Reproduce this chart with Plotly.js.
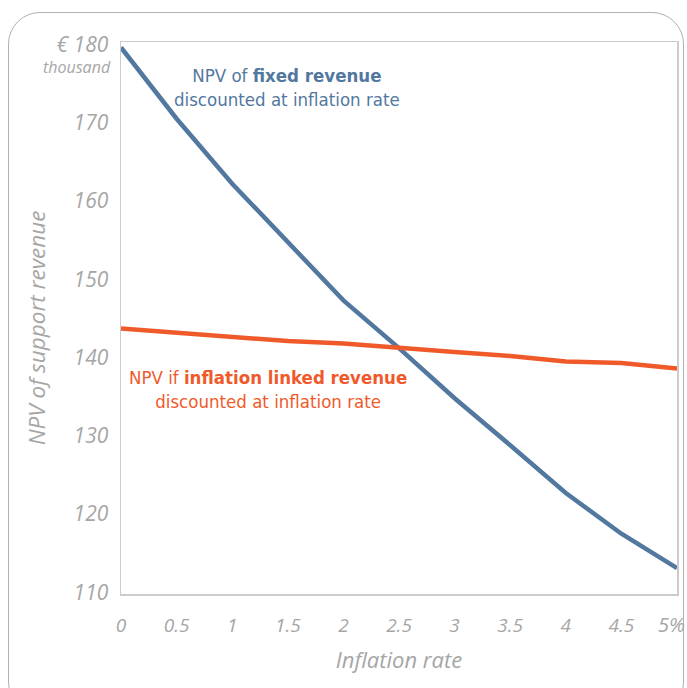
<!DOCTYPE html>
<html><head><meta charset="utf-8">
<script src="https://cdn.plot.ly/plotly-3.0.1.min.js"></script>
<style>
html,body{margin:0;padding:0;background:#fff;}
#wrap{position:relative;width:687px;height:688px;}
#chart{position:absolute;left:0;top:0;width:687px;height:688px;}
#frame{position:absolute;left:8px;top:12px;width:674px;height:700px;border:1.5px solid #b0b0b0;border-radius:32px;pointer-events:none;}
</style></head>
<body><div id="wrap"><div id="frame"></div><div id="chart"></div></div>
<script>
const inflation = [0, 0.5, 1, 1.5, 2, 2.5, 3, 3.5, 4, 4.5, 5];
const fixedNPV = [179.6, 170.5, 162.2, 154.8, 147.3, 141.2, 134.8, 128.8, 122.7, 117.5, 113.1];
const linkedNPV = [143.7, 143.2, 142.7, 142.1, 141.8, 141.2, 140.7, 140.2, 139.5, 139.3, 138.6];
const xTickVals = [0, 0.5, 1, 1.5, 2, 2.5, 3, 3.5, 4, 4.5, 5];
const xTickText = ['0', '0.5', '1', '1.5', '2', '2.5', '3', '3.5', '4', '4.5', ''];
const lastXTick = '5%';
const yTickVals = [110, 120, 130, 140, 150, 160, 170, 180];
const yTickText = ['110', '120', '130', '140', '150', '160', '170', '€ 180'];

const blue = '#52789f';
const red = '#f05a2b';
const grey = '#a6a6a6';
const fnt = '"DejaVu Sans Condensed", "Open Sans", sans-serif';
const tfnt = '"Open Sans", sans-serif';

const data = [
  {x: inflation, y: fixedNPV, type: 'scatter', mode: 'lines', line: {color: blue, width: 4.5}, hoverinfo: 'skip'},
  {x: inflation, y: linkedNPV, type: 'scatter', mode: 'lines', line: {color: red, width: 4.5}, hoverinfo: 'skip'}
];

const layout = {
  width: 687, height: 688,
  margin: {l: 121, r: 10, t: 42, b: 94},
  showlegend: false,
  paper_bgcolor: 'rgba(0,0,0,0)',
  plot_bgcolor: '#fff',
  font: {family: tfnt, color: grey},
  xaxis: {
    range: [0, 5], tickvals: xTickVals, ticktext: xTickText,
    showgrid: false, zeroline: false, showline: true, mirror: true, linecolor: '#cccccc', linewidth: 1.5,
    ticks: '', ticklabelstandoff: 14,
    tickfont: {family: tfnt, size: 19, color: grey, style: 'italic'},
    title: {text: 'Inflation rate', font: {family: tfnt, size: 22, color: grey, style: 'italic'}, standoff: 15}
  },
  yaxis: {
    range: [109.8, 180.3], tickvals: yTickVals, ticktext: yTickText,
    showgrid: false, zeroline: false, showline: true, mirror: true, linecolor: '#cccccc', linewidth: 1.5,
    ticks: '', ticklabelstandoff: 7,
    tickfont: {family: tfnt, size: 21, color: grey, style: 'italic'}
  },
  annotations: [
    {xref: 'paper', yref: 'paper', x: -0.182, y: 0.482, textangle: -90,
     text: 'NPV of support revenue', showarrow: false, font: {family: tfnt, size: 22.5, color: grey, style: 'italic'}},
    {xref: 'x', yref: 'paper', x: 5, y: 0, yanchor: 'top', yshift: -15, xshift: -6,
     text: lastXTick, showarrow: false, font: {family: tfnt, size: 20, color: grey, style: 'italic'}},
    {xref: 'paper', yref: 'y', x: 0, xanchor: 'right', xshift: -8, y: 180, yanchor: 'top', yshift: -10,
     text: 'thousand', showarrow: false, font: {family: tfnt, size: 16, color: grey, style: 'italic'}},
    {xref: 'x', yref: 'y', x: 1.49, y: 174.5, text: 'NPV of <b>fixed revenue</b><br>discounted at inflation rate',
     showarrow: false, font: {family: fnt, size: 18.5, color: blue}, align: 'center'},
    {xref: 'x', yref: 'y', x: 1.32, y: 135.9, text: 'NPV if <b>inflation linked revenue</b><br>discounted at inflation rate',
     showarrow: false, font: {family: fnt, size: 18.5, color: red}, align: 'center'}
  ]
};

Plotly.newPlot('chart', data, layout, {displayModeBar: false, staticPlot: true});
</script></body></html>
